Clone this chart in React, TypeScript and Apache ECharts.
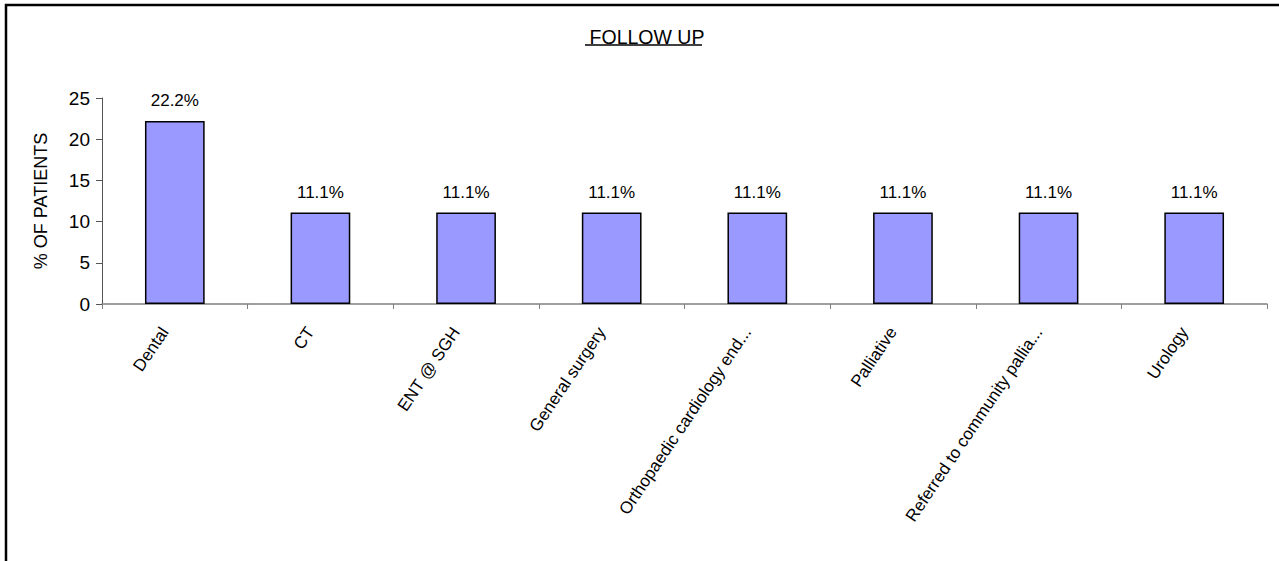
import React, { useEffect, useRef } from "react";
import * as echarts from "echarts";

const categories = [
  "Dental",
  "CT",
  "ENT @ SGH",
  "General surgery",
  "Orthopaedic cardiology end...",
  "Palliative",
  "Referred to community pallia...",
  "Urology",
];
const values = [22.2, 11.1, 11.1, 11.1, 11.1, 11.1, 11.1, 11.1];
const yTicks = { min: 0, max: 25, interval: 5 };
const titleText = "FOLLOW UP";
const yAxisName = "% OF PATIENTS";

const FONT = "'Liberation Sans', Arial, sans-serif";

export default function App() {
  const ref = useRef<HTMLDivElement>(null);
  useEffect(() => {
    if (!ref.current) return;
    const chart = echarts.init(ref.current, undefined, { renderer: "svg" });
    chart.setOption({
      animation: false,
      backgroundColor: "#ffffff",
      textStyle: { fontFamily: FONT },
      title: {
        text: titleText,
        left: 642,
        top: 22,
        textAlign: "center",
        textStyle: { fontFamily: FONT, fontSize: 19.5, fontWeight: "normal", color: "#000" },
      },
      graphic: [
        {
          type: "rect",
          shape: { x: 6, y: 5, width: 1320, height: 620 },
          style: { fill: "none", stroke: "#000", lineWidth: 2.5 },
          silent: true,
        },
        {
          type: "line",
          shape: { x1: 585, y1: 45, x2: 702, y2: 45 },
          style: { stroke: "#000", lineWidth: 1.5 },
          silent: true,
        },
      ],
      grid: { left: 102, right: 12, top: 98, bottom: 257, containLabel: false },
      xAxis: {
        type: "category",
        data: categories,
        boundaryGap: true,
        axisLine: { lineStyle: { color: "#808080", width: 1.5 } },
        axisTick: { show: true, length: 5, lineStyle: { color: "#808080" } },
        axisLabel: {
          rotate: 56,
          interval: 0,
          margin: 10,
          padding: [0, 18, 0, 0],
          fontSize: 17,
          fontFamily: FONT,
          color: "#000",
        },
      },
      yAxis: {
        type: "value",
        min: yTicks.min,
        max: yTicks.max,
        interval: yTicks.interval,
        name: yAxisName,
        nameLocation: "middle",
        nameGap: 52,
        nameTextStyle: { fontSize: 18, fontFamily: FONT, color: "#000" },
        splitLine: { show: false },
        axisLine: { show: true, lineStyle: { color: "#555", width: 1 } },
        axisTick: { show: true, length: 6, lineStyle: { color: "#555" } },
        axisLabel: { fontSize: 19, fontFamily: FONT, color: "#000", margin: 12 },
      },
      series: [
        {
          type: "bar",
          data: values,
          barWidth: "41%",
          itemStyle: { color: "#9999FF", borderColor: "#000", borderWidth: 1.5 },
          label: {
            show: true,
            position: "top",
            distance: 12,
            fontSize: 17,
            fontFamily: FONT,
            color: "#000",
            formatter: (p: any) => p.value.toFixed(1) + "%",
          },
        },
      ],
    });
    return () => chart.dispose();
  }, []);
  return (
    <div
      ref={ref}
      style={{ position: "fixed", left: 0, top: 0, width: 1279, height: 561 }}
    />
  );
}
